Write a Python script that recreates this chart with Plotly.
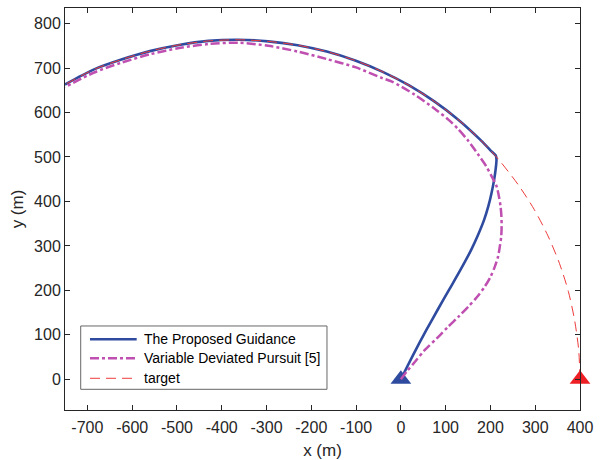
import plotly.graph_objects as go

# ---- data (metres) ----
# target: moving along an arc, starting at (400, 0)
target_x = [400, 397, 388, 374, 354, 328.5, 298, 262, 221.5, 200, 176.5, 127.5, 74.7,
            18.5, -40.6, -102, -165.5, -230.5, -296.5, -363, -429.5, -495.5, -560.5,
            -624, -685, -750]
target_y = [0, 66.5, 132.5, 197.5, 261, 322.5, 381.5, 437.6, 490.4, 515, 539.5, 584.5, 625,
            661, 691.5, 717, 737, 751.4, 760, 763.5, 761, 752, 738,
            719, 697, 663]

# proposed guidance: pursuer starting at the origin
guid_x = [0, 27.5, 57, 82.5, 107.5, 133, 157, 172.5, 186, 195.5, 202.5, 208.3, 211.6, 213.5, 212,
          200, 176.5, 127.5, 74.7, 18.5, -40.6, -102, -165.5, -230.5, -296.5, -363, -429.5,
          -495.5, -560.5, -624, -685, -750]
guid_y = [0, 55, 111, 157, 201, 246, 291, 325, 359, 390, 419, 449, 472, 494, 503,
          515, 539.5, 584.5, 625, 661, 691.5, 717, 737, 751.4, 760, 763.5, 761,
          752, 738, 719, 697, 663]

# variable deviated pursuit [5]
vdp_x = [0, 12.7, 32, 53.6, 80, 105.8, 130, 150.5, 170, 187.6, 200, 210, 217, 221, 224, 225,
         224.5, 222.6, 219, 213.7, 202.5, 190, 173, 150, 127.5, 106, 74.7, 31, -21, -43,
         -102, -165, -230, -296, -363, -429, -495, -560, -624, -685, -750]
vdp_y = [0, 17, 40, 66, 92, 118.5, 142, 163.5, 185, 209, 230, 254, 276, 299, 320, 344,
         366, 389, 411, 434, 457, 480, 505, 537, 563, 584, 609, 640, 670, 678,
         702, 720, 737, 750, 757, 754, 745, 731, 712, 690, 657]

x_ticks = [-700, -600, -500, -400, -300, -200, -100, 0, 100, 200, 300, 400]
y_ticks = [0, 100, 200, 300, 400, 500, 600, 700, 800]

series_names = ["The Proposed Guidance", "Variable Deviated Pursuit [5]", "target"]

BLUE = "#2E4B9F"
MAGENTA = "#BF4FB0"
RED = "#EE3B3B"
RED_MARK = "#EE1F25"
INK = "#262626"
FONT = "Liberation Sans, Arial, sans-serif"

fig = go.Figure()

fig.add_trace(go.Scatter(x=guid_x, y=guid_y, mode="lines",
                         line=dict(color=BLUE, width=2.6, shape="spline", smoothing=0.8),
                         showlegend=False))
fig.add_trace(go.Scatter(x=[guid_x[0]], y=[guid_y[0]], mode="markers",
                         marker=dict(symbol="triangle-up", size=18, color=BLUE),
                         cliponaxis=False, showlegend=False))
fig.add_trace(go.Scatter(x=vdp_x, y=vdp_y, mode="lines",
                         line=dict(color=MAGENTA, width=2.5, dash="9px,3px,3px,3px",
                                   shape="spline", smoothing=0.8),
                         showlegend=False))
fig.add_trace(go.Scatter(x=target_x, y=target_y, mode="lines",
                         line=dict(color=RED, width=1, dash="10px,6px",
                                   shape="spline", smoothing=0.8),
                         showlegend=False))
fig.add_trace(go.Scatter(x=[target_x[0]], y=[target_y[0]], mode="markers",
                         marker=dict(symbol="triangle-up", size=18, color=RED_MARK),
                         cliponaxis=False, showlegend=False))

# ---- legend box drawn in paper coordinates ----
fig.add_shape(type="rect", xref="paper", yref="paper",
              x0=0.0305, x1=0.5087, y0=0.0515, y1=0.209,
              line=dict(color="#666666", width=1), fillcolor="white", layer="above")
legend_rows = [0.1759, 0.1286, 0.0789]
legend_styles = [dict(color=BLUE, width=2.6),
                 dict(color=MAGENTA, width=2.5, dash="9px,3px,3px,3px"),
                 dict(color=RED, width=1, dash="10px,6px")]
for name, yy, st in zip(series_names, legend_rows, legend_styles):
    fig.add_shape(type="line", xref="paper", yref="paper",
                  x0=0.0485, x1=0.1392, y0=yy, y1=yy, line=st, layer="above")
    fig.add_annotation(xref="paper", yref="paper", x=0.1489, y=yy, text=name,
                       showarrow=False, xanchor="left", yanchor="middle",
                       font=dict(family=FONT, size=14, color="#000000"))

axis_common = dict(
    showline=True, linecolor=INK, linewidth=1, mirror="ticks",
    ticks="inside", ticklen=5, tickwidth=1, tickcolor=INK,
    showgrid=False, zeroline=False, automargin=False,
    tickfont=dict(family=FONT, size=16, color=INK),
)

fig.update_layout(
    width=600, height=460,
    margin=dict(l=65, r=20, t=8, b=50),
    paper_bgcolor="white", plot_bgcolor="white",
    font=dict(family=FONT, color=INK),
    xaxis=dict(range=[-750, 400], tickvals=x_ticks, ticktext=[str(v) for v in x_ticks],
               ticklabelstandoff=3,
               title=dict(text="x (m)", font=dict(family=FONT, size=17, color=INK), standoff=8),
               **axis_common),
    yaxis=dict(range=[-69, 835], tickvals=y_ticks, ticktext=[str(v) for v in y_ticks],
               title=dict(text="y (m)", font=dict(family=FONT, size=17, color=INK), standoff=6),
               **axis_common),
)

fig.write_html("out.html")
